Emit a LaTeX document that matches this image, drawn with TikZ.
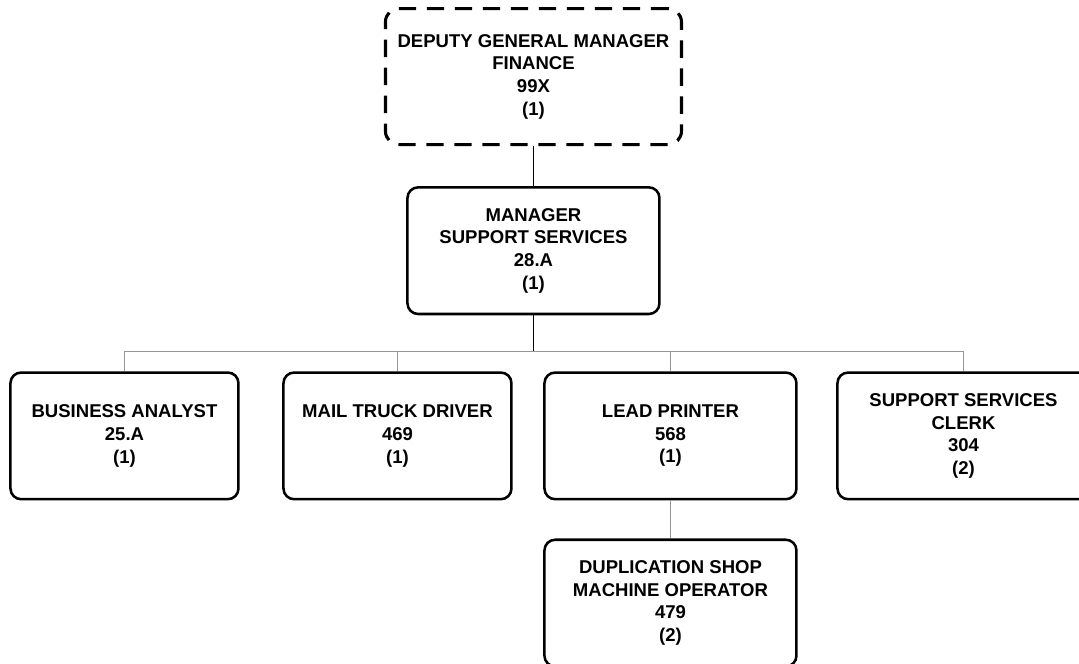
\documentclass[tikz,border=0pt]{standalone}
\usepackage{fontspec}
\setmainfont{Liberation Sans}
\usetikzlibrary{positioning}
\definecolor{linkgray}{RGB}{150,150,150}
\tikzset{
node distance=42pt, % gap between the levels of the chart
every node/.style={font=\fontsize{13.9}{17}\selectfont\bfseries, align=center},
post/.style={draw=black, line width=1.9pt, rounded corners=8pt, minimum width=189pt, minimum height=95pt, inner sep=2pt}, % a normal position
small post/.style={post, minimum width=171pt}, % narrower position box
outside post/.style={post, line width=2.3pt, dash pattern=on 13pt off 8pt, rounded corners=10pt, minimum width=222pt, minimum height=102pt}, % position of another unit
boss link/.style={draw=black, line width=1.1pt},
staff link/.style={draw=linkgray, line width=0.9pt},
}

\begin{document}
\begin{tikzpicture}
        \useasboundingbox (0,0) rectangle (809.25pt,-498pt);

        \node[outside post] (dgm) at (400.1pt,-57.4pt) {DEPUTY GENERAL MANAGER\\FINANCE\\99X\\(1)};
        \node[post, below=30pt of dgm] (mgr) {MANAGER\\SUPPORT SERVICES\\28.A\\(1)};
        \node[small post, below=42pt of mgr, xshift=-306.75pt] (analyst) {BUSINESS ANALYST\\25.A\\(1)};
        \node[small post, below=42pt of mgr, xshift=-102pt] (driver) {MAIL TRUCK DRIVER\\469\\(1)};
        \node[post, below=42pt of mgr, xshift=102.75pt] (printer) {LEAD PRINTER\\568\\(1)};
        \node[post, below=42pt of mgr, xshift=322.5pt] (clerk) {SUPPORT SERVICES\\CLERK\\304\\(2)};
        \node[post, below=28.5pt of printer] (operator) {DUPLICATION SHOP\\MACHINE OPERATOR\\479\\(2)};

        \coordinate[below=27pt of mgr.south] (bus);

        \draw[boss link] (dgm) -- (mgr)
        (mgr) -- (bus);
        \draw[staff link] (analyst.north) |- (bus) -| (clerk.north)
        (driver.north) -- (driver.north |- bus)
        (printer.north) -- (printer.north |- bus)
        (printer) -- (operator);
      \end{tikzpicture}
\end{document}
